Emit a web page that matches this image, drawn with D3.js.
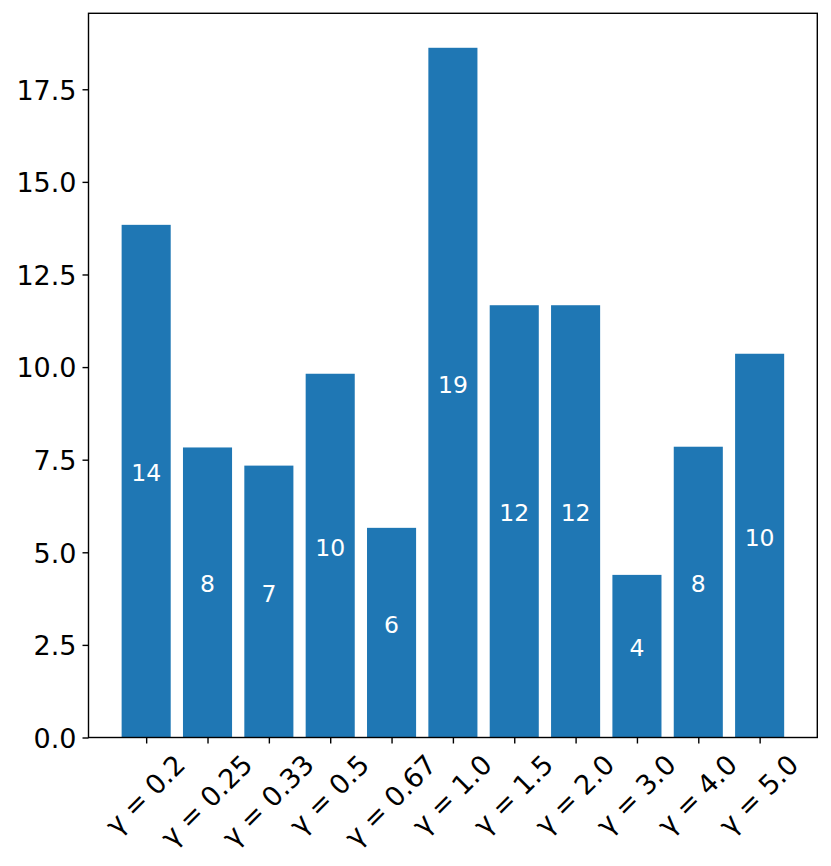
<!DOCTYPE html>
<html>
<head>
<meta charset="utf-8">
<script src="https://d3js.org/d3.v7.min.js"></script>
<style>
  body { margin: 0; background: #fff; }
  svg text { font-family: "DejaVu Sans", sans-serif; }
  .tick line { stroke: #000; stroke-width: 1.4px; }
  .domain { display: none; }
</style>
</head>
<body>
<script>
// data
var gammas = ["0.2", "0.25", "0.33", "0.5", "0.67", "1.0", "1.5", "2.0", "3.0", "4.0", "5.0"];
var counts = [13.84, 7.83, 7.34, 9.82, 5.66, 18.62, 11.67, 11.67, 4.39, 7.85, 10.36];
var yTicks = [0, 2.5, 5, 7.5, 10, 12.5, 15, 17.5];

var W = 831, H = 866;
var plotL = 88.5, plotR = 817.3, plotT = 13.3, plotB = 737.5;
var barW = 0.8;

var svg = d3.select("body").append("svg")
    .attr("width", W)
    .attr("height", H);

// matplotlib-style margins: 5% of the data span
var n = gammas.length;
var lo = -barW / 2, hi = n - 1 + barW / 2;
var pad = (hi - lo) * 0.05;
var x = d3.scaleLinear().domain([lo - pad, hi + pad]).range([plotL, plotR]);
var y = d3.scaleLinear().domain([0, d3.max(counts) * 1.05]).range([plotB, plotT]);

// bars
svg.selectAll("rect.bar")
    .data(counts)
    .enter()
    .append("rect")
    .attr("class", "bar")
    .attr("x", function(d, i) { return x(i - barW / 2); })
    .attr("width", function(d, i) { return x(i + barW / 2) - x(i - barW / 2); })
    .attr("y", function(d) { return y(d); })
    .attr("height", function(d) { return y(0) - y(d); })
    .attr("fill", "#1f77b4");

// labels in the middle of the bars
svg.selectAll("text.barlabel")
    .data(counts)
    .enter()
    .append("text")
    .attr("class", "barlabel")
    .attr("x", function(d, i) { return x(i); })
    .attr("y", function(d) { return y(d / 2); })
    .attr("text-anchor", "middle")
    .attr("fill", "#fff")
    .style("font-size", "23.5px")
    .text(function(d) { return Math.round(d); });

// y axis
var yAxis = svg.append("g")
    .attr("transform", "translate(" + plotL + ",0)")
    .call(d3.axisLeft(y).tickValues(yTicks).tickFormat(d3.format(".1f")).tickSize(6).tickPadding(6));
yAxis.selectAll("text")
    .attr("fill", "#000")
    .attr("dy", "0.36em")
    .style("font-size", "27px");

// x axis (ticks only, labels rotated below)
var xAxis = svg.append("g")
    .attr("transform", "translate(0," + plotB + ")")
    .call(d3.axisBottom(x).tickValues(d3.range(n)).tickFormat("").tickSize(6));

var labelTop = plotB + 6 + 6;
var fs = 27;
var xl = svg.selectAll("text.xlabel")
    .data(gammas)
    .enter()
    .append("text")
    .attr("class", "xlabel")
    .attr("text-anchor", "middle")
    .attr("dy", "0.3em")
    .style("font-size", fs + "px")
    .text(function(d) { return "\u03b3 = " + d; });

xl.each(function(d, i) {
    var w = this.getComputedTextLength();
    var h = fs * 1.17;
    var cx = x(i);
    var cy = labelTop + (w + h) / (2 * Math.SQRT2);
    d3.select(this)
        .attr("x", 0).attr("y", 0)
        .attr("transform", "translate(" + cx + "," + cy + ") rotate(-45)");
});

// frame
svg.append("rect")
    .attr("x", plotL)
    .attr("y", plotT)
    .attr("width", plotR - plotL)
    .attr("height", plotB - plotT)
    .attr("fill", "none")
    .attr("stroke", "#000")
    .attr("stroke-width", 1.4);
</script>
</body>
</html>
